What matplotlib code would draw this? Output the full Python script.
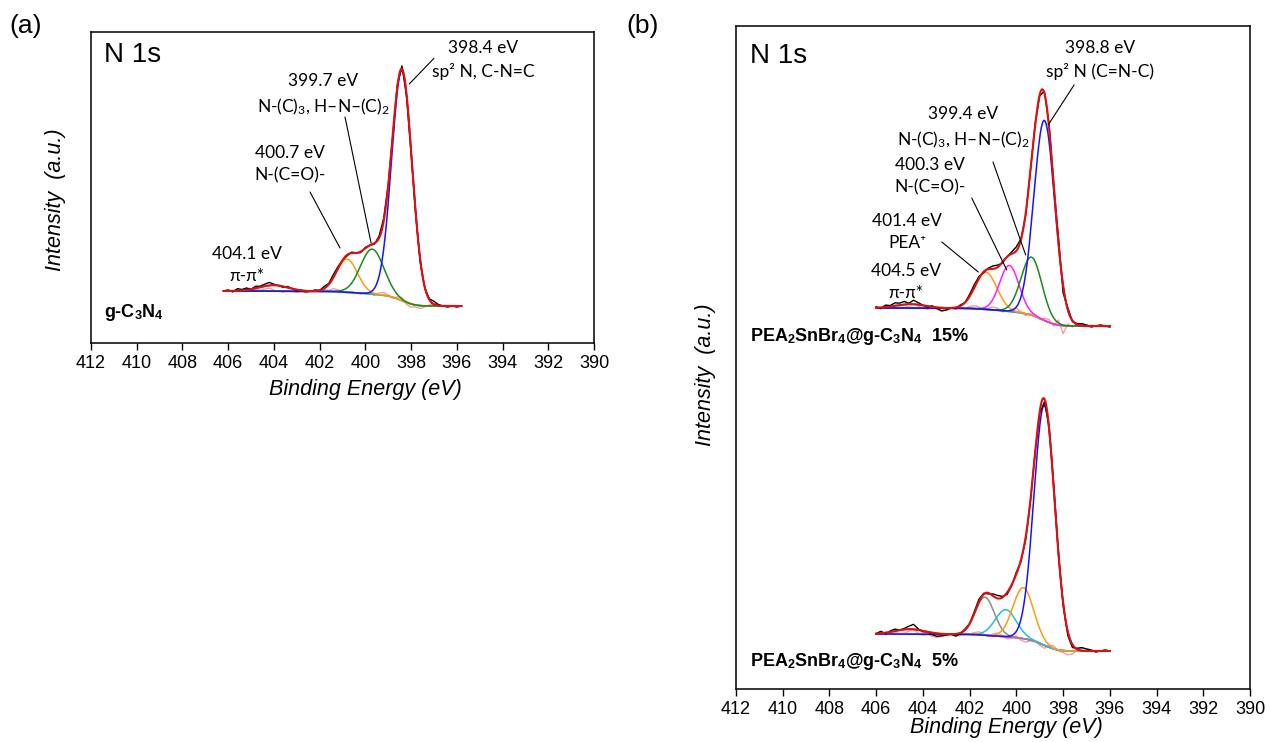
import math
import numpy as np
import matplotlib
matplotlib.use('Agg')
import matplotlib.pyplot as plt

plt.rcParams['font.family'] = ['Liberation Sans', 'DejaVu Sans']
plt.rcParams['mathtext.fontset'] = 'custom'
plt.rcParams['mathtext.rm'] = 'Lato'
plt.rcParams['mathtext.it'] = 'Lato:italic'
plt.rcParams['mathtext.bf'] = 'Liberation Sans:bold'

# ---------------- data ----------------
be_ticks = list(range(412, 389, -2))

# (a) g-C3N4 : peak centre (eV), height, FWHM (eV)
a_centers = [398.4, 399.7, 400.8, 404.0]
a_heights = [230, 45, 33, 6]
a_fwhm = [1.05, 1.2, 1.07, 1.5]
a_bg = [37, 52]              # background level at low / high BE end
a_range = [406.2, 395.8]
a_resid = [0, 1, -1, 2, 1, 2, 0, 2, 1, 2,
           3, 1, 0, -1, 1, 0, -1, 0, -1, 0,
           1, 0, 2, 1, 3, 2, 0, -1, 1, 0,
           -1, 1, 0, -1, 2, 3, 1, -1, 2, 3,
           -2, -3, -2, -3, -1, 1, 3, 1, 0, -1,
           0, -1, 0]

# (b) PEA2SnBr4@g-C3N4 15 %
b15_centers = [398.8, 399.35, 400.3, 401.3, 404.5]
b15_heights = [200, 58, 46, 37, 4]
b15_fwhm = [1.05, 1.05, 0.97, 1.1, 1.5]
b15_bg = [363, 381]
b15_range = [406.0, 396.0]
b15_resid = [1, -1, 2, 1, 3, 2, 3, 1, 4, 2,
             0, -1, 1, -1, -3, -2, 0, -1, 1, 0,
             2, 3, 2, -1, 1, 3, 2, -1, 0, 2,
             4, 1, -2, 1, 2, -1, 2, 3, -2, 5,
             -8, 2, -1, 1, 2, 1, -1, 0, 1, 0,
             -1]

# (b) PEA2SnBr4@g-C3N4 5 %
b5_centers = [398.8, 399.7, 400.45, 401.35, 404.55]
b5_heights = [240, 51, 27, 38, 5]
b5_fwhm = [1.05, 1.04, 1.07, 0.96, 1.5]
b5_bg = [38, 55]
b5_range = [406.0, 396.0]
b5_resid = [0, 2, -1, 1, 2, 0, 1, 3, 5, 1,
            -1, 0, -2, -3, -2, -1, 0, -2, -1, 1,
            0, 2, 3, 1, -1, 2, 3, 1, -2, -1,
            2, -2, -3, -1, 1, -2, -3, 2, 3, -1,
            -2, -4, -3, 1, 3, 2, 1, -1, 0, 1,
            0]

a_colors = ['#1414ff', '#1a8a1a', '#ff9a10', '#22b5b5']
b15_colors = ['#1414ff', '#1a8a1a', '#ff20ff', '#ff9a10', '#30b0b0']
b5_colors = ['#1414ff', '#ff9a10', '#20c4c4', '#8c8c8c', '#ff20ff']

erf = np.vectorize(math.erf)


def gauss(E, c, h, w):
    s = w / (2 * math.sqrt(2 * math.log(2)))
    return h * np.exp(-0.5 * ((E - c) / s) ** 2)


def shirley(E, centers, heights, fwhm, bg, e_low):
    """Shirley-type step: proportional to peak area on the low-BE side."""
    area = np.zeros_like(E)
    total = 0.0
    for c, h, w in zip(centers, heights, fwhm):
        s = w / (2 * math.sqrt(2 * math.log(2)))
        k = h * s * math.sqrt(2 * math.pi) / 2
        lo = math.erf((e_low - c) / (s * math.sqrt(2)))
        area += k * (erf((E - c) / (s * math.sqrt(2))) - lo)
        total += k * (1 - lo)
    return bg[0] + (bg[1] - bg[0]) * area / total


def draw_spectrum(ax, centers, heights, fwhm, bg, erange, resid, colors, bgcolor):
    E = np.linspace(erange[1], erange[0], 800)
    Er = erange[0] - 0.2 * np.arange(len(resid))
    back = shirley(E, centers, heights, fwhm, bg, erange[1])
    back_r = shirley(Er, centers, heights, fwhm, bg, erange[1])
    fit = back.copy()
    fit_r = back_r.copy()
    for c, h, w in zip(centers, heights, fwhm):
        fit += gauss(E, c, h, w)
        fit_r += gauss(Er, c, h, w)
    ax.plot(Er, back_r + np.array(resid), color='#f2a0a0', lw=1.0)
    ax.plot(E, back, color=bgcolor, lw=1.2)
    for (c, h, w), col in zip(list(zip(centers, heights, fwhm))[::-1], colors[::-1]):
        ax.plot(E, back + gauss(E, c, h, w), color=col, lw=1.1)
    ax.plot(Er, fit_r + np.array(resid), color='black', lw=1.0)
    ax.plot(E, fit, color='#e01010', lw=1.5)


def leader(ax, p1, p2):
    ax.annotate('', xy=p1, xytext=p2,
                arrowprops=dict(arrowstyle='-', color='black', lw=0.8,
                                shrinkA=0, shrinkB=0))


W, H = 1269, 742
fig = plt.figure(figsize=(W / 100, H / 100), dpi=100)


def box(l, t, r, b):
    return [l / W, 1 - b / H, (r - l) / W, (b - t) / H]


ann = dict(ha='center', va='center', fontsize=12.5, family=['Lato', 'DejaVu Sans'],
           linespacing=1.45)

# ---------------- panel (a) ----------------
axa = fig.add_axes(box(91, 32, 594, 343))
draw_spectrum(axa, a_centers, a_heights, a_fwhm, a_bg, a_range, a_resid,
              a_colors, '#a08a20')
axa.set_ylim(0, 311)

axa.text(394.85, 283, '398.4 eV\nsp² N, C-N=C', **ann)
leader(axa, (398.08, 259), (397.0, 284.7))
axa.text(401.85, 248, '399.7 eV\nN-(C)$_3$, H–N–(C)$_2$', **ann)
leader(axa, (399.75, 100), (400.89, 226))
axa.text(403.3, 179, '400.7 eV\nN-(C=O)-', **ann)
leader(axa, (401.11, 95), (402.42, 151))
axa.text(405.18, 78, '404.1 eV\nπ-π*', **ann)
axa.text(0.025, 0.925, 'N 1s', transform=axa.transAxes, fontsize=20, va='center')
axa.text(0.025, 0.097, 'g-C$_\\mathbf{3}$N$_\\mathbf{4}$', transform=axa.transAxes,
         fontsize=13, fontweight='bold', va='center')

# ---------------- panel (b) ----------------
axb = fig.add_axes(box(736, 26, 1250, 689))
draw_spectrum(axb, b5_centers, b5_heights, b5_fwhm, b5_bg, b5_range, b5_resid,
              b5_colors, '#7a7a90')
draw_spectrum(axb, b15_centers, b15_heights, b15_fwhm, b15_bg, b15_range, b15_resid,
              b15_colors, '#c040c0')
axb.set_ylim(0, 663)

axb.text(396.42, 629, '398.8 eV\nsp² N (C=N-C)', **ann)
leader(axb, (398.64, 564), (397.53, 604))
axb.text(402.28, 561, '399.4 eV\nN-(C)$_3$, H–N–(C)$_2$', **ann)
leader(axb, (399.60, 434), (401.0, 527))
axb.text(403.70, 513, '400.3 eV\nN-(C=O)-', **ann)
leader(axb, (400.41, 419), (401.91, 491))
axb.text(404.68, 457, '401.4 eV\nPEA⁺', **ann)
leader(axb, (401.63, 417), (403.19, 447))
axb.text(404.72, 407, '404.5 eV\nπ-π*', **ann)
axb.text(0.027, 0.955, 'N 1s', transform=axb.transAxes, fontsize=20, va='center')
axb.text(0.027, 0.532,
         'PEA$_\\mathbf{2}$SnBr$_\\mathbf{4}$@g-C$_\\mathbf{3}$N$_\\mathbf{4}$  15%',
         transform=axb.transAxes, fontsize=13, fontweight='bold', va='center')
axb.text(0.027, 0.041,
         'PEA$_\\mathbf{2}$SnBr$_\\mathbf{4}$@g-C$_\\mathbf{3}$N$_\\mathbf{4}$  5%',
         transform=axb.transAxes, fontsize=13, fontweight='bold', va='center')

for ax in (axa, axb):
    ax.set_xlim(412, 390)
    ax.set_xticks(be_ticks)
    ax.set_yticks([])
    ax.tick_params(axis='x', direction='out', length=5, width=1, labelsize=13, pad=4)
    for sp in ax.spines.values():
        sp.set_linewidth(1.1)

# axis titles and panel letters
lab = dict(fontsize=15.5, style='italic', ha='center', va='center')
fig.text(365 / W, 1 - 390 / H, 'Binding Energy (eV)', **lab)
fig.text(1006 / W, 1 - 727 / H, 'Binding Energy (eV)', **lab)
fig.text(56 / W, 1 - 200 / H, 'Intensity  (a.u.)', rotation=90, **lab)
fig.text(705 / W, 1 - 375 / H, 'Intensity  (a.u.)', rotation=90, **lab)
fig.text(26 / W, 1 - 26 / H, '(a)', fontsize=19, ha='center', va='center')
fig.text(643 / W, 1 - 26 / H, '(b)', fontsize=19, ha='center', va='center')

fig.savefig('out.png', dpi=100)
